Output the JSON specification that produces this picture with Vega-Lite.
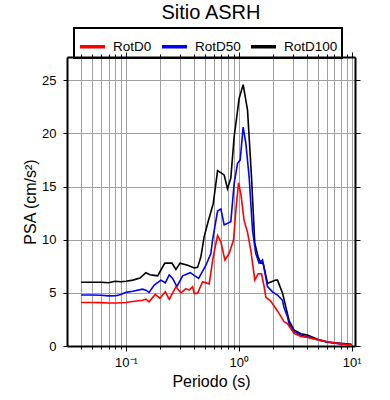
{
  "$schema": "https://vega.github.io/schema/vega-lite/v6.json",
  "width": 288,
  "height": 289,
  "autosize": "none",
  "padding": {"left": 67, "top": 57, "right": 35, "bottom": 54},
  "background": "white",
  "config": {
    "font": "Liberation Sans",
    "view": {"stroke": null},
    "axis": {"labelFont": "Liberation Sans", "titleFont": "Liberation Sans", "titleFontWeight": "normal", "labelColor": "black", "titleColor": "black", "tickColor": "black", "domainColor": "black", "domainWidth": 2, "gridColor": "#a0a0a0", "gridWidth": 1, "gridOpacity": 1}
  },
  "title": {"text": "Sitio ASRH", "fontSize": 20, "font": "Liberation Sans", "fontWeight": "normal", "anchor": "middle", "offset": 4, "color": "black"},
  "data": {
    "values": [
      {"series": "RotD100", "period": 0.04, "psa": 6.0},
      {"series": "RotD100", "period": 0.05, "psa": 6.0},
      {"series": "RotD100", "period": 0.06, "psa": 6.0},
      {"series": "RotD100", "period": 0.07, "psa": 5.95},
      {"series": "RotD100", "period": 0.08, "psa": 6.1},
      {"series": "RotD100", "period": 0.09, "psa": 6.05},
      {"series": "RotD100", "period": 0.1, "psa": 6.1},
      {"series": "RotD100", "period": 0.115, "psa": 6.2},
      {"series": "RotD100", "period": 0.133, "psa": 6.4},
      {"series": "RotD100", "period": 0.15, "psa": 6.9},
      {"series": "RotD100", "period": 0.163, "psa": 6.7},
      {"series": "RotD100", "period": 0.178, "psa": 6.65},
      {"series": "RotD100", "period": 0.191, "psa": 6.6},
      {"series": "RotD100", "period": 0.205, "psa": 7.2},
      {"series": "RotD100", "period": 0.221, "psa": 7.8},
      {"series": "RotD100", "period": 0.255, "psa": 7.8},
      {"series": "RotD100", "period": 0.277, "psa": 7.2},
      {"series": "RotD100", "period": 0.301, "psa": 7.8},
      {"series": "RotD100", "period": 0.352, "psa": 7.6},
      {"series": "RotD100", "period": 0.402, "psa": 7.35},
      {"series": "RotD100", "period": 0.431, "psa": 7.4},
      {"series": "RotD100", "period": 0.461, "psa": 8.4},
      {"series": "RotD100", "period": 0.493, "psa": 10.3},
      {"series": "RotD100", "period": 0.528, "psa": 11.5},
      {"series": "RotD100", "period": 0.593, "psa": 13.4},
      {"series": "RotD100", "period": 0.648, "psa": 16.5},
      {"series": "RotD100", "period": 0.741, "psa": 16.1},
      {"series": "RotD100", "period": 0.794, "psa": 14.8},
      {"series": "RotD100", "period": 0.849, "psa": 15.8},
      {"series": "RotD100", "period": 0.909, "psa": 19.7},
      {"series": "RotD100", "period": 1.006, "psa": 23.3},
      {"series": "RotD100", "period": 1.092, "psa": 24.6},
      {"series": "RotD100", "period": 1.194, "psa": 22.2},
      {"series": "RotD100", "period": 1.295, "psa": 15.9},
      {"series": "RotD100", "period": 1.385, "psa": 9.65},
      {"series": "RotD100", "period": 1.482, "psa": 8.4},
      {"series": "RotD100", "period": 1.566, "psa": 7.8},
      {"series": "RotD100", "period": 1.641, "psa": 7.8},
      {"series": "RotD100", "period": 1.795, "psa": 5.9},
      {"series": "RotD100", "period": 2.125, "psa": 6.2},
      {"series": "RotD100", "period": 2.2, "psa": 6.2},
      {"series": "RotD100", "period": 2.436, "psa": 5.0},
      {"series": "RotD100", "period": 2.786, "psa": 2.4},
      {"series": "RotD100", "period": 3.086, "psa": 1.5},
      {"series": "RotD100", "period": 3.54, "psa": 1.15},
      {"series": "RotD100", "period": 4.05, "psa": 1.03},
      {"series": "RotD100", "period": 4.97, "psa": 0.63},
      {"series": "RotD100", "period": 6.09, "psa": 0.38},
      {"series": "RotD100", "period": 7.99, "psa": 0.25},
      {"series": "RotD100", "period": 10.0, "psa": 0.16},
      {"series": "RotD50", "period": 0.04, "psa": 4.8},
      {"series": "RotD50", "period": 0.05, "psa": 4.8},
      {"series": "RotD50", "period": 0.06, "psa": 4.78},
      {"series": "RotD50", "period": 0.07, "psa": 4.72},
      {"series": "RotD50", "period": 0.0816, "psa": 4.73},
      {"series": "RotD50", "period": 0.09, "psa": 4.85},
      {"series": "RotD50", "period": 0.1, "psa": 5.05},
      {"series": "RotD50", "period": 0.115, "psa": 5.15},
      {"series": "RotD50", "period": 0.14, "psa": 5.35},
      {"series": "RotD50", "period": 0.15, "psa": 5.26},
      {"series": "RotD50", "period": 0.16, "psa": 5.05},
      {"series": "RotD50", "period": 0.178, "psa": 5.73},
      {"series": "RotD50", "period": 0.204, "psa": 6.2},
      {"series": "RotD50", "period": 0.223, "psa": 5.95},
      {"series": "RotD50", "period": 0.2416, "psa": 6.7},
      {"series": "RotD50", "period": 0.259, "psa": 6.36},
      {"series": "RotD50", "period": 0.2826, "psa": 5.6},
      {"series": "RotD50", "period": 0.3177, "psa": 6.6},
      {"series": "RotD50", "period": 0.3707, "psa": 6.9},
      {"series": "RotD50", "period": 0.408, "psa": 6.6},
      {"series": "RotD50", "period": 0.44, "psa": 6.36},
      {"series": "RotD50", "period": 0.493, "psa": 7.3},
      {"series": "RotD50", "period": 0.5105, "psa": 7.6},
      {"series": "RotD50", "period": 0.565, "psa": 8.7},
      {"series": "RotD50", "period": 0.585, "psa": 10.0},
      {"series": "RotD50", "period": 0.648, "psa": 12.7},
      {"series": "RotD50", "period": 0.693, "psa": 12.9},
      {"series": "RotD50", "period": 0.741, "psa": 11.4},
      {"series": "RotD50", "period": 0.849, "psa": 11.7},
      {"series": "RotD50", "period": 0.909, "psa": 15.3},
      {"series": "RotD50", "period": 0.974, "psa": 17.2},
      {"series": "RotD50", "period": 1.027, "psa": 17.5},
      {"series": "RotD50", "period": 1.092, "psa": 20.6},
      {"series": "RotD50", "period": 1.153, "psa": 19.1},
      {"series": "RotD50", "period": 1.234, "psa": 15.9},
      {"series": "RotD50", "period": 1.322, "psa": 10.9},
      {"series": "RotD50", "period": 1.413, "psa": 8.7},
      {"series": "RotD50", "period": 1.513, "psa": 7.8},
      {"series": "RotD50", "period": 1.621, "psa": 8.1},
      {"series": "RotD50", "period": 1.795, "psa": 5.6},
      {"series": "RotD50", "period": 1.987, "psa": 5.1},
      {"series": "RotD50", "period": 2.2, "psa": 4.8},
      {"series": "RotD50", "period": 2.436, "psa": 4.3},
      {"series": "RotD50", "period": 2.517, "psa": 3.6},
      {"series": "RotD50", "period": 2.698, "psa": 2.75},
      {"series": "RotD50", "period": 2.786, "psa": 2.1},
      {"series": "RotD50", "period": 3.086, "psa": 1.35},
      {"series": "RotD50", "period": 3.54, "psa": 1.03},
      {"series": "RotD50", "period": 4.05, "psa": 0.87},
      {"series": "RotD50", "period": 4.97, "psa": 0.6},
      {"series": "RotD50", "period": 6.09, "psa": 0.35},
      {"series": "RotD50", "period": 7.99, "psa": 0.2},
      {"series": "RotD50", "period": 10.0, "psa": 0.12},
      {"series": "RotD0", "period": 0.04, "psa": 4.1},
      {"series": "RotD0", "period": 0.05, "psa": 4.1},
      {"series": "RotD0", "period": 0.06, "psa": 4.08},
      {"series": "RotD0", "period": 0.07, "psa": 4.05},
      {"series": "RotD0", "period": 0.0816, "psa": 4.05},
      {"series": "RotD0", "period": 0.1, "psa": 4.1},
      {"series": "RotD0", "period": 0.1107, "psa": 4.16},
      {"series": "RotD0", "period": 0.14, "psa": 4.3},
      {"series": "RotD0", "period": 0.15, "psa": 4.4},
      {"series": "RotD0", "period": 0.16, "psa": 4.16},
      {"series": "RotD0", "period": 0.1817, "psa": 4.86},
      {"series": "RotD0", "period": 0.2, "psa": 4.48},
      {"series": "RotD0", "period": 0.223, "psa": 5.1},
      {"series": "RotD0", "period": 0.2416, "psa": 4.4},
      {"series": "RotD0", "period": 0.2768, "psa": 5.57},
      {"series": "RotD0", "period": 0.3069, "psa": 5.0},
      {"series": "RotD0", "period": 0.3397, "psa": 5.4},
      {"series": "RotD0", "period": 0.3632, "psa": 5.26},
      {"series": "RotD0", "period": 0.389, "psa": 5.57},
      {"series": "RotD0", "period": 0.402, "psa": 4.95},
      {"series": "RotD0", "period": 0.431, "psa": 4.95},
      {"series": "RotD0", "period": 0.477, "psa": 6.05},
      {"series": "RotD0", "period": 0.546, "psa": 5.85},
      {"series": "RotD0", "period": 0.593, "psa": 8.4},
      {"series": "RotD0", "period": 0.648, "psa": 10.4},
      {"series": "RotD0", "period": 0.693, "psa": 9.8},
      {"series": "RotD0", "period": 0.752, "psa": 8.1},
      {"series": "RotD0", "period": 0.82, "psa": 8.7},
      {"series": "RotD0", "period": 0.898, "psa": 10.0},
      {"series": "RotD0", "period": 0.941, "psa": 12.8},
      {"series": "RotD0", "period": 0.994, "psa": 15.35},
      {"series": "RotD0", "period": 1.042, "psa": 14.3},
      {"series": "RotD0", "period": 1.114, "psa": 11.8},
      {"series": "RotD0", "period": 1.194, "psa": 10.7},
      {"series": "RotD0", "period": 1.277, "psa": 9.0},
      {"series": "RotD0", "period": 1.385, "psa": 6.2},
      {"series": "RotD0", "period": 1.482, "psa": 6.8},
      {"series": "RotD0", "period": 1.588, "psa": 6.8},
      {"series": "RotD0", "period": 1.675, "psa": 5.6},
      {"series": "RotD0", "period": 1.734, "psa": 4.6},
      {"series": "RotD0", "period": 1.919, "psa": 4.2},
      {"series": "RotD0", "period": 2.2, "psa": 3.3},
      {"series": "RotD0", "period": 2.517, "psa": 2.3},
      {"series": "RotD0", "period": 2.698, "psa": 2.1},
      {"series": "RotD0", "period": 3.086, "psa": 1.2},
      {"series": "RotD0", "period": 3.54, "psa": 0.9},
      {"series": "RotD0", "period": 4.05, "psa": 0.81},
      {"series": "RotD0", "period": 4.97, "psa": 0.6},
      {"series": "RotD0", "period": 6.09, "psa": 0.4},
      {"series": "RotD0", "period": 7.99, "psa": 0.2},
      {"series": "RotD0", "period": 10.0, "psa": 0.1}
    ]
  },
  "layer": [
    {
      "mark": {"type": "line", "strokeWidth": 1.6},
      "encoding": {
        "x": {
          "field": "period", "type": "quantitative",
          "scale": {"type": "log", "domain": [0.03, 10.7], "nice": false},
          "axis": {
            "orient": "bottom",
            "values": [0.04, 0.05, 0.06, 0.07, 0.08, 0.09, 0.1, 0.2, 0.3, 0.4, 0.5, 0.6, 0.7, 0.8, 0.9, 1, 2, 3, 4, 5, 6, 7, 8, 9, 10],
            "labelExpr": "datum.value == 0.1 ? '10⁻¹' : datum.value == 1 ? '10⁰' : datum.value == 10 ? '10¹' : ''",
            "labelOverlap": false,
            "labelFontSize": 13,
            "labelPadding": 5,
            "tickSize": {"condition": {"test": "datum.value == 0.1 || datum.value == 1 || datum.value == 10", "value": 5}, "value": 3},
            "grid": true,
            "title": "Periodo (s)",
            "titleFontSize": 16,
            "titlePadding": 4
          }
        },
        "y": {
          "field": "psa", "type": "quantitative",
          "scale": {"domain": [0, 27.2], "nice": false},
          "axis": {
            "orient": "left",
            "values": [0, 5, 10, 15, 20, 25],
            "labelFontSize": 13,
            "labelPadding": 7,
            "tickSize": 4,
            "grid": true,
            "gridOpacity": {"condition": {"test": "datum.value == 0", "value": 0}, "value": 1},
            "title": "PSA (cm/s²)",
            "titleFontSize": 16,
            "titlePadding": 3
          }
        },
        "color": {
          "field": "series", "type": "nominal",
          "scale": {"domain": ["RotD0", "RotD50", "RotD100"], "range": ["#ff0000", "#0000ff", "#000000"]},
          "legend": {
            "orient": "none", "legendX": 7, "legendY": -29,
            "direction": "horizontal", "title": null,
            "gridAlign": "each",
            "symbolType": "stroke", "symbolSize": 625, "symbolStrokeWidth": 3.5,
            "labelFontSize": 13.5, "labelFont": "Liberation Sans", "labelColor": "black",
            "labelOffset": 6, "columnPadding": 3, "padding": 4,
            "strokeColor": "black",
            "encode": {"legend": {"update": {"strokeWidth": {"value": 2}}}}
          }
        }
      }
    },
    {
      "mark": {"type": "line", "opacity": 0},
      "encoding": {
        "x": {
          "field": "period", "type": "quantitative",
          "scale": {"type": "log", "domain": [0.03, 10.7], "nice": false},
          "axis": {
            "orient": "top",
            "values": [0.04, 0.05, 0.06, 0.07, 0.08, 0.09, 0.1, 0.2, 0.3, 0.4, 0.5, 0.6, 0.7, 0.8, 0.9, 1, 2, 3, 4, 5, 6, 7, 8, 9, 10],
            "labels": false,
            "tickSize": {"condition": {"test": "datum.value == 0.1 || datum.value == 1 || datum.value == 10", "value": 5}, "value": 3},
            "grid": false,
            "title": null
          }
        },
        "y": {
          "field": "psa", "type": "quantitative",
          "scale": {"domain": [0, 27.2], "nice": false},
          "axis": {
            "orient": "right",
            "values": [0, 5, 10, 15, 20, 25],
            "labels": false,
            "tickSize": 5,
            "grid": false,
            "title": null
          }
        },
        "detail": {"field": "series", "type": "nominal"}
      }
    }
  ],
  "resolve": {"axis": {"x": "independent", "y": "independent"}}
}
